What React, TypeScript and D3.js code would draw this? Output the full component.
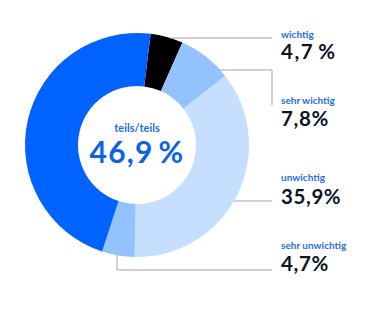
import React from "react";
import * as d3 from "d3";

const categories = ["wichtig", "sehr wichtig", "unwichtig", "sehr unwichtig", "teils/teils"];
const values = [4.7, 7.8, 35.9, 4.7, 46.9];
const valueLabels = ["4,7\u2009%", "7,8%", "35,9%", "4,7%", "46,9\u2009%"];
const colors = ["#000000", "#93c2ff", "#c6dffe", "#93c2ff", "#0062ff"];

const W = 375;
const H = 312;
const cx = 137;
const cy = 145;
const outerR = 112;
const innerR = 59;
const startDeg = 7;

const labelX = 281;
const labelY = [38, 104, 181, 248.5];
const valueY = [59, 126, 204, 270.5];
const lineEndX = 272;

export default function App() {
  const pie = d3
    .pie<number>()
    .sort(null)
    .value((d) => d)
    .startAngle((startDeg * Math.PI) / 180)
    .endAngle(((startDeg + 360) * Math.PI) / 180);
  const arcs = pie(values);
  const arc = d3.arc<d3.PieArcDatum<number>>().innerRadius(innerR).outerRadius(outerR);

  const xAtY = (y: number) => cx + Math.sqrt(Math.max(0, outerR * outerR - (y - cy) * (y - cy)));

  const leaders: string[] = [
    `M${xAtY(38)},38 H${lineEndX}`,
    `M${xAtY(70) - 1},70 H${lineEndX} V105`,
    `M${xAtY(201)},201 H${lineEndX}`,
    `M117,${cy + Math.sqrt(outerR * outerR - (117 - cx) * (117 - cx))} V270 H${lineEndX}`,
  ];

  const font = "Lato, 'Noto Sans', sans-serif";

  return (
    <svg
      width={W}
      height={H}
      viewBox={`0 0 ${W} ${H}`}
      style={{ position: "absolute", left: 0, top: 0, background: "#fff" }}
    >
      <g transform={`translate(${cx},${cy})`}>
        {arcs.map((a, i) => (
          <path key={i} d={arc(a) || ""} fill={colors[i]} />
        ))}
      </g>
      {leaders.map((d, i) => (
        <path key={i} d={d} fill="none" stroke="#a3a3a3" strokeWidth={1} />
      ))}
      {categories.slice(0, 4).map((c, i) => (
        <g key={c}>
          <text x={labelX} y={labelY[i]} fontFamily={font} fontWeight={700} fontSize={10} fill="#1f6ee6">
            {c}
          </text>
          <text
            x={labelX}
            y={valueY[i]}
            fontFamily={font}
            fontWeight={700}
            fontSize={20.5}
            fill="#0d1526"
            letterSpacing={i === 0 ? 1.5 : 0.6}
          >
            {valueLabels[i]}
          </text>
        </g>
      ))}
      <text x={cx} y={132} textAnchor="middle" fontFamily={font} fontWeight={700} fontSize={11} fill="#1f6ee6">
        {categories[4]}
      </text>
      <text
        x={cx}
        y={163}
        textAnchor="middle"
        fontFamily={font}
        fontWeight={700}
        fontSize={30}
        fill="#0f62e6"
        letterSpacing={1.2}
      >
        {valueLabels[4]}
      </text>
    </svg>
  );
}
